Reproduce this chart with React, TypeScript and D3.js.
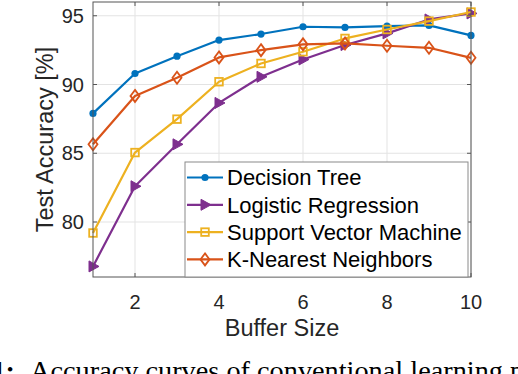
import React from "react";
import * as d3 from "d3";

const bufferSizes = [1, 2, 3, 4, 5, 6, 7, 8, 9, 10];
const decisionTree = [87.9, 90.8, 92.06, 93.23, 93.67, 94.2, 94.15, 94.25, 94.3, 93.57];
const logisticRegression = [76.77, 82.6, 85.65, 88.66, 90.56, 91.82, 92.87, 93.72, 94.73, 95.17];
const svm = [79.2, 85.05, 87.48, 90.2, 91.53, 92.38, 93.35, 94.0, 94.61, 95.27];
const knn = [85.65, 89.17, 90.49, 91.97, 92.5, 92.92, 92.99, 92.82, 92.67, 91.94];
const xTicks = [2, 4, 6, 8, 10];
const yTicks = [80, 85, 90, 95];

const series = [
  { name: "Decision Tree", values: decisionTree, color: "#0072BD", marker: "circle" },
  { name: "Logistic Regression", values: logisticRegression, color: "#7E2F8E", marker: "triangle" },
  { name: "Support Vector Machine", values: svm, color: "#EDB120", marker: "square" },
  { name: "K-Nearest Neighbors", values: knn, color: "#D95319", marker: "diamond" },
];

const W = 518;
const H = 374;
const left = 93, right = 471, top = 2, bottom = 277;
const font = "'Liberation Sans', Arial, Helvetica, sans-serif";
const serif = "'Liberation Serif', 'Times New Roman', serif";

const Marker = ({ kind, x, y, color }: { kind: string; x: number; y: number; color: string }) => {
  if (kind === "circle") return <circle cx={x} cy={y} r={3.6} fill={color} />;
  if (kind === "triangle")
    return <path d={`M${x - 4},${y - 5.5}L${x + 6},${y}L${x - 4},${y + 5.5}Z`} fill={color} stroke={color} strokeWidth={1} />;
  if (kind === "square")
    return <rect x={x - 3.8} y={y - 3.8} width={7.6} height={7.6} fill="none" stroke={color} strokeWidth={1.8} />;
  return <path d={`M${x},${y - 6}L${x + 4.5},${y}L${x},${y + 6}L${x - 4.5},${y}Z`} fill="none" stroke={color} strokeWidth={1.8} />;
};

export default function App() {
  const x = d3.scaleLinear().domain([1, 10]).range([left, right]);
  const y = d3.scaleLinear().domain([76, 96]).range([bottom, top]);
  const line = d3
    .line<number>()
    .x((_, i) => x(bufferSizes[i]))
    .y((d) => y(d));

  const legX = 185, legY = 162, legW = 283, legH = 115;
  const rowY = (i: number) => 177.5 + i * 27.3;

  return (
    <div style={{ position: "fixed", left: 0, top: 0 }}>
      <svg width={W} height={H} style={{ display: "block", background: "#fff" }}>
        {/* grid */}
        {xTicks.map((t) => (
          <line key={"gx" + t} x1={x(t)} x2={x(t)} y1={top} y2={bottom} stroke="#e3e3e3" strokeWidth={1} />
        ))}
        {yTicks.map((t) => (
          <line key={"gy" + t} x1={left} x2={right} y1={y(t)} y2={y(t)} stroke="#e3e3e3" strokeWidth={1} />
        ))}

        {/* lines and markers */}
        {series.map((s) => (
          <g key={s.name}>
            <path d={line(s.values) || ""} fill="none" stroke={s.color} strokeWidth={2.2} strokeLinejoin="round" />
            {s.values.map((v, i) => (
              <Marker key={i} kind={s.marker} x={x(bufferSizes[i])} y={y(v)} color={s.color} />
            ))}
          </g>
        ))}

        {/* axes box */}
        <rect x={left} y={top} width={right - left} height={bottom - top} fill="none" stroke="#555" strokeWidth={1} />
        {xTicks.map((t) => (
          <g key={"tx" + t}>
            <line x1={x(t)} x2={x(t)} y1={bottom} y2={bottom - 4} stroke="#555" />
            <line x1={x(t)} x2={x(t)} y1={top} y2={top + 4} stroke="#555" />
            <text x={x(t)} y={309} textAnchor="middle" fontFamily={font} fontSize={20} fill="#262626">
              {t}
            </text>
          </g>
        ))}
        {yTicks.map((t) => (
          <g key={"ty" + t}>
            <line x1={left} x2={left + 4} y1={y(t)} y2={y(t)} stroke="#555" />
            <line x1={right} x2={right - 4} y1={y(t)} y2={y(t)} stroke="#555" />
            <text x={84} y={y(t) + 7} textAnchor="end" fontFamily={font} fontSize={20} fill="#262626">
              {t}
            </text>
          </g>
        ))}

        {/* axis labels */}
        <text x={(left + right) / 2} y={336} textAnchor="middle" fontFamily={font} fontSize={23.5} fill="#262626">
          Buffer Size
        </text>
        <text
          transform={`translate(53,${(top + bottom) / 2}) rotate(-90)`}
          textAnchor="middle"
          fontFamily={font}
          fontSize={23.5}
          fill="#262626"
        >
          Test Accuracy [%]
        </text>

        {/* legend */}
        <rect x={legX} y={legY} width={legW} height={legH} fill="#fff" stroke="#8a8a8a" strokeWidth={1} />
        {series.map((s, i) => (
          <g key={"leg" + s.name}>
            <line x1={187} x2={223} y1={rowY(i)} y2={rowY(i)} stroke={s.color} strokeWidth={2.2} />
            <Marker kind={s.marker} x={205} y={rowY(i)} color={s.color} />
            <text x={227} y={rowY(i) + 7.8} fontFamily={font} fontSize={22} fill="#000">
              {s.name}
            </text>
          </g>
        ))}

        {/* caption, cut off by the image edge */}
        <text x={15} y={380} textAnchor="end" fontFamily={serif} fontWeight="bold" fontSize={28.3}>
          Fig. 1:
        </text>
        <text x={30} y={380} fontFamily={serif} fontSize={28.3}>
          Accuracy curves of conventional learning performance
        </text>
      </svg>
    </div>
  );
}
